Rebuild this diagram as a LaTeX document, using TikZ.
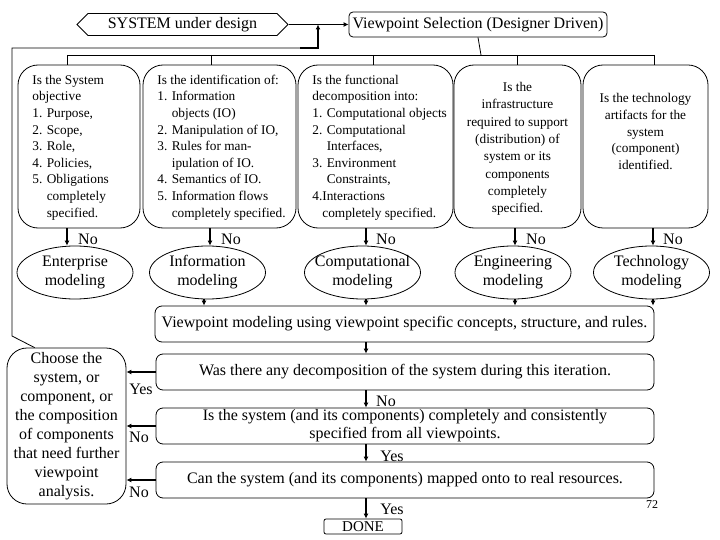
\documentclass[tikz,border=0pt]{standalone}
\usepackage{fontspec}
\setmainfont{Liberation Serif}
\usetikzlibrary{arrows.meta,shapes.geometric,shapes.symbols,calc}
\begin{document}
\begin{tikzpicture}[x=1pt,y=-1pt,
  line width=0.8pt,
  bigf/.style={font=\fontsize{16}{19}\selectfont},
  smallf/.style={font=\fontsize{13.3}{16.6}\selectfont},
  topbox/.style={draw, rounded corners=20pt, minimum height=163pt, inner sep=0pt},
  txt/.style={smallf, inner sep=0pt},
  wide/.style={draw, rounded corners=7pt, minimum width=498pt, minimum height=36pt, inner sep=0pt, bigf, align=center},
  oval/.style={draw, ellipse, minimum width=116pt, minimum height=53pt, inner xsep=-7pt, inner ysep=0pt, bigf, align=center},
  arr/.style={line width=1.6pt, -{Latex[length=5pt,width=5pt]}},
  lab/.style={bigf, inner sep=0pt},
]
\fill[white] (0,0) rectangle (720,540);
\useasboundingbox (0,0) rectangle (720,540);

% top
\node[signal, signal to=west and east, signal pointer angle=90, draw, minimum width=211pt, minimum height=22pt, inner sep=0pt, bigf] (sys) at (182.5,24.5) {SYSTEM under design};
\node[draw, rounded corners=4pt, minimum width=258pt, minimum height=25pt, inner sep=0pt, bigf] (vs) at (478,24.5) {Viewpoint Selection (Designer Driven)};
\draw[arr] (sys.east) -- (vs.west);

% five question boxes
\node[topbox, minimum width=122pt] (b1) at (79,146.5) {};
\node[topbox, minimum width=153pt] (b2) at (219.5,146.5) {};
\node[topbox, minimum width=155pt] (b3) at (375.5,146.5) {};
\node[topbox, minimum width=127pt] (b4) at (517.5,146.5) {};
\node[topbox, minimum width=125pt] (b5) at (645.5,146.5) {};

\node[txt, align=left, anchor=west] (t1) at (32,147.5) {Is the System\\objective\\1. Purpose,\\2. Scope,\\3. Role,\\4. Policies,\\5. Obligations\\\phantom{5. }completely\\\phantom{5. }specified.};
\node[txt, align=left, anchor=west] (t2) at (157,147.5) {Is the identification of:\\1. Information\\\phantom{1. }objects (IO)\\2. Manipulation of IO,\\3. Rules for man-\\\phantom{3. }ipulation of IO.\\4. Semantics of IO.\\5. Information flows\\\phantom{5. }completely specified.};
\node[txt, align=left, anchor=west] (t3) at (312,147.5) {Is the functional\\decomposition into:\\1. Computational objects\\2. Computational\\\phantom{2. }Interfaces,\\3. Environment\\\phantom{3. }Constraints,\\4.Interactions\\\phantom{4.}completely specified.};
\node[txt, align=center, font=\fontsize{13.3}{17.3}\selectfont] (t4) at (517.5,149) {Is the\\infrastructure\\required to support\\(distribution) of\\system or its\\components\\completely\\specified.};
\node[txt, align=center] (t5) at (645.5,131.5) {Is the technology\\artifacts for the\\system\\(component)\\identified.};

% connector bar
\coordinate (hub) at (481,55);
\coordinate (c1) at (67,55);
\coordinate (c2) at (211,55);
\coordinate (c3) at (373,55);
\coordinate (c4) at (517,55);
\coordinate (c5) at (654,55);
\draw (vs.south) -- (hub);
\draw (c1) -- (c5);
\draw (c1) -- (c1 |- b1.north);
\draw (c2) -- (c2 |- b2.north);
\draw (c3) -- (c3 |- b3.north);
\draw (c4) -- (c4 |- b4.north);
\draw (c5) -- (c5 |- b5.north);

% ovals
\node[oval] (e1) at (75,272.5) {Enterprise\\modeling};
\node[oval] (e2) at (207.5,272.5) {Information\\modeling};
\node[oval] (e3) at (362.5,272.5) {Computational\\modeling};
\node[oval] (e4) at (513,272.5) {Engineering\\modeling};
\node[oval] (e5) at (651.5,272.5) {Technology\\modeling};

\coordinate (n1) at (67,0);
\coordinate (n2) at (210,0);
\coordinate (n3) at (366,0);
\coordinate (n4) at (515,0);
\coordinate (n5) at (653,0);
\draw[arr] (n1 |- b1.south) -- (n1 |- e1.north);
\draw[arr] (n2 |- b2.south) -- (n2 |- e2.north);
\draw[arr] (n3 |- b3.south) -- (n3 |- e3.north);
\draw[arr] (n4 |- b4.south) -- (n4 |- e4.north);
\draw[arr] (n5 |- b5.south) -- (n5 |- e5.north);
\node[lab] (no1) at (88,239) {No};
\node[lab] (no2) at (231,239) {No};
\node[lab] (no3) at (386,239) {No};
\node[lab] (no4) at (536,239) {No};
\node[lab] (no5) at (673,239) {No};

% viewpoint modeling
\node[wide, minimum width=499pt] (vm) at (404.5,324) {Viewpoint modeling using viewpoint specific concepts, structure, and rules.};
\coordinate (m2) at (204,0);
\coordinate (m3) at (366,0);
\coordinate (m4) at (515,0);
\coordinate (m5) at (653,0);
\draw[arr] (m2 |- e2.south) -- (m2 |- vm.north);
\draw[arr] (m3 |- e3.south) -- (m3 |- vm.north);
\draw[arr] (m4 |- e4.south) -- (m4 |- vm.north);
\draw[arr] (m5 |- e5.south) -- (m5 |- vm.north);

% decision boxes
\node[wide] (was) at (405,372) {Was there any decomposition of the system during this iteration.};
\node[wide, font=\fontsize{16}{18}\selectfont] (isb) at (405,426) {Is the system (and its components) completely and consistently\\specified from all viewpoints.};
\node[wide] (can) at (405,480) {Can the system (and its components) mapped onto to real resources.};
\node[draw, rounded corners=2pt, minimum width=78pt, minimum height=15pt, inner sep=0pt, font=\fontsize{15}{15}\selectfont] (done) at (363,526.5) {DONE};

\coordinate (ax) at (366,0);
\draw[arr] (ax |- vm.south) -- (ax |- was.north);
\draw[arr] (ax |- was.south) -- (ax |- isb.north);
\draw[arr] (ax |- isb.south) -- (ax |- can.north);
\draw[arr] (ax |- can.south) -- (ax |- done.north);
\node[lab] (lno) at (386,401) {No};
\node[lab] (lyes1) at (392,456) {Yes};
\node[lab] (lyes2) at (392,509) {Yes};
\node[font=\fontsize{12}{12}\selectfont, inner sep=0pt] (pg) at (652,505) {72};

% choose box
\node[draw, rounded corners=20pt, minimum width=119pt, minimum height=156pt, inner sep=0pt, bigf, align=center] (ch) at (66.5,426) {Choose the\\system, or\\component, or\\the composition\\of components\\that need further\\viewpoint\\analysis.};
\draw[arr] (was.west) -- (ch.east |- was.west);
\draw[arr] (isb.west) -- (ch.east |- isb.west);
\draw[arr] (can.west) -- (ch.east |- can.west);
\node[lab] (ly) at (141,389) {Yes};
\node[lab] (ln1) at (139,437) {No};
\node[lab] (ln2) at (139,492) {No};

% feedback loop
\coordinate (fa) at ([xshift=28pt]ch.north west);
\coordinate (fb) at (12,336);
\coordinate (fc) at (12,48);
\coordinate (fd) at (300,48);
\coordinate (fe) at (318,48);
\draw (fa) -- (fb) -- (fc) -- (fd);
\draw[arr] (fd) -- (fe) -- (fe |- sys.east);
\end{tikzpicture}
\end{document}
